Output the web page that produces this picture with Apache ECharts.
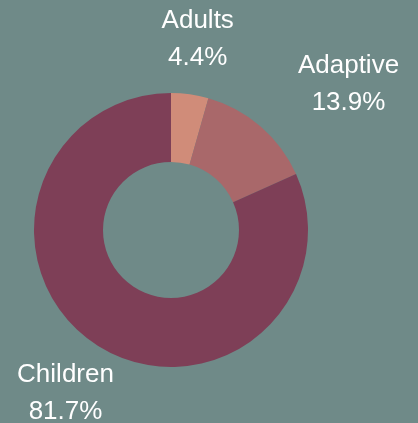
<!DOCTYPE html>
<html>
<head>
<meta charset="utf-8">
<script src="https://cdn.jsdelivr.net/npm/echarts@6/dist/echarts.min.js"></script>
<style>
html,body{margin:0;padding:0;background:#6f8a88;}
#chart{width:418px;height:423px;}
</style>
</head>
<body>
<div id="chart"></div>
<script>
const categories = ['Adults', 'Adaptive', 'Children'];
const values = [4.4, 13.9, 81.7];
const colors = ['#d08c79', '#a9686a', '#7e3f57'];
const labelShift = [0, 1, 0];

const chart = echarts.init(document.getElementById('chart'), null, {renderer: 'canvas'});
chart.setOption({
  backgroundColor: '#6f8a88',
  animation: false,
  series: [{
    type: 'pie',
    center: [171, 230],
    radius: [68, 137],
    startAngle: 90,
    clockwise: true,
    avoidLabelOverlap: false,
    data: categories.map((c, i) => ({name: c, value: values[i], itemStyle: {color: colors[i]}})),
    label: {
      show: true,
      position: 'outside',
      distanceToLabelLine: 0,
      formatter: p => p.name + '\n' + p.value.toFixed(1) + '%',
      color: '#ffffff',
      fontFamily: 'Liberation Sans, Arial, sans-serif',
      fontSize: 26,
      lineHeight: 37
    },
    labelLine: {show: false, length: 57, length2: 0},
    labelLayout: p => ({align: 'center', dx: labelShift[p.dataIndex] * p.labelRect.width / 2, dy: 1}),
    emphasis: {disabled: true}
  }]
});
</script>
</body>
</html>
